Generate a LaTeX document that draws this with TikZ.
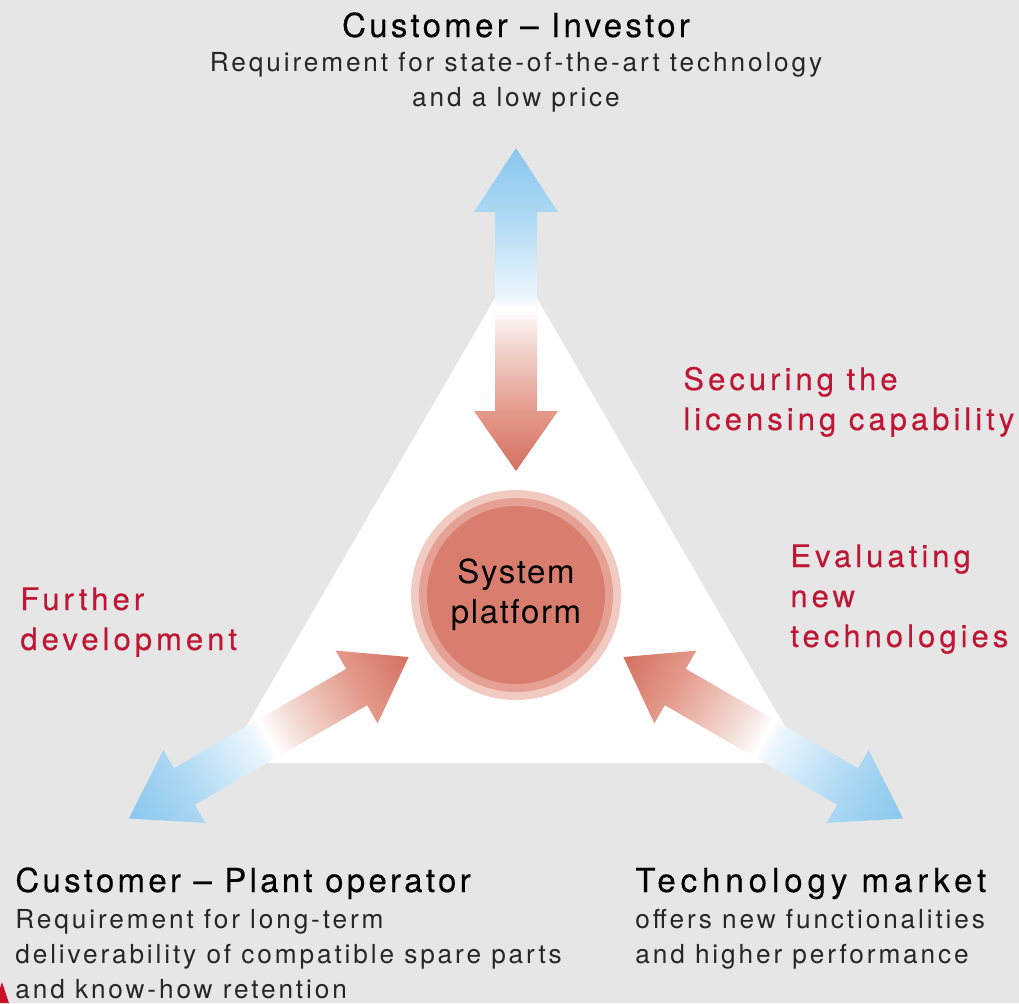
\documentclass[tikz,border=0pt]{standalone}
\usepackage{fontspec}
\setmainfont{TeX Gyre Heros}
\newfontfamily\headfont[LetterSpace=10, FakeBold=0.3]{TeX Gyre Heros}
\newfontfamily\wideheadfont[LetterSpace=15, FakeBold=0.3]{TeX Gyre Heros}
\newfontfamily\bodyfont[LetterSpace=11]{TeX Gyre Heros}
\newfontfamily\goalfont[LetterSpace=13, FakeBold=0.3]{TeX Gyre Heros}
\newfontfamily\sysfont[LetterSpace=5]{TeX Gyre Heros}
\usetikzlibrary{positioning}

\definecolor{bggray}{RGB}{230,230,230}
\definecolor{goalred}{RGB}{190,22,52}
\definecolor{sysred}{RGB}{217,125,110}
\definecolor{haloin}{RGB}{229,162,148}
\definecolor{haloout}{RGB}{241,203,194}
\definecolor{txtgray}{RGB}{38,38,38}
\definecolor{redtip}{RGB}{212,112,96}
\definecolor{redmid}{RGB}{227,152,137}
\definecolor{redpale}{RGB}{245,224,218}
\definecolor{bluepale}{RGB}{236,246,253}
\definecolor{bluemid}{RGB}{170,215,243}
\definecolor{bluetip}{RGB}{138,199,238}
\definecolor{cornerred}{RGB}{200,16,40}

\pgfdeclareverticalshading{arrowfade}{100bp}{color(0bp)=(redtip); color(25bp)=(redtip); color(34bp)=(redmid); color(46bp)=(redpale); color(50bp)=(white); color(52bp)=(bluepale); color(65bp)=(bluemid); color(75bp)=(bluetip); color(100bp)=(bluetip)}

\begin{document}
\begin{tikzpicture}[x=0.5pt, y=-0.5pt,
head/.style={font=\headfont\fontsize{16.5}{20}\selectfont, text=black, inner sep=0pt},
body/.style={font=\bodyfont\fontsize{13.1}{17.5}\selectfont, text=txtgray, inner sep=0pt},
goal/.style={font=\goalfont\fontsize{15.5}{20}\selectfont, text=goalred, inner sep=0pt, align=left, anchor=base west}]

\fill[bggray] (0,0) rectangle (1019,1003);
\useasboundingbox (0,0) rectangle (1019,1003);

\coordinate (c) at (516,595);
\coordinate (apex) at (516,262);
\coordinate (left) at (225,763);
\coordinate (right) at (806,763);
\fill[white] (apex) -- (left) -- (right) -- cycle;

\fill[haloout] (c) circle (105);
\fill[haloin] (c) circle (97);
\node[circle, fill=sysred, minimum size=89pt, inner sep=0pt, align=center,
  font=\sysfont\fontsize{16.5}{20}\selectfont] (sys) at (c) {System\\platform};

\foreach \a in {0,120,-120}{
  \begin{scope}[transform canvas={shift={(c)}, rotate=\a}]
    \shade[shading=arrowfade] (0,-447) -- (42,-383) -- (21,-383) -- (21,-184) -- (42,-184)
      -- (0,-124) -- (-42,-184) -- (-21,-184) -- (-21,-383) -- (-42,-383) -- cycle;
  \end{scope}
}

\node[head, anchor=base] (inv) at (516,37) {Customer – Investor};
\node[body, align=center, below=7pt of inv] (invreq) {Requirement for state-of-the-art technology\\and a low price};

\node[head, anchor=base west] (plant) at (15,892) {Customer – Plant operator};
\node[body, align=left, below=4.5pt of plant.south west, anchor=north west] (plantreq)
  {Requirement for long-term\\deliverability of compatible spare parts\\and know-how retention};

\node[head, anchor=base west, font=\wideheadfont\fontsize{16.5}{20}\selectfont] (market) at (635,892) {Technology market};
\node[body, align=left, below=4.5pt of market.south west, anchor=north west] (marketreq)
  {offers new functionalities\\and higher performance};

\node[goal] (lic) at (683,430) {Securing the\\licensing capability};
\node[goal] (eval) at (790,647) {Evaluating\\new\\technologies};
\node[goal] (dev) at (20,650) {Further\\development};

\fill[cornerred] (0,988) -- (2,982) -- (9,1003) -- (0,1003) -- cycle;

\end{tikzpicture}
\end{document}
